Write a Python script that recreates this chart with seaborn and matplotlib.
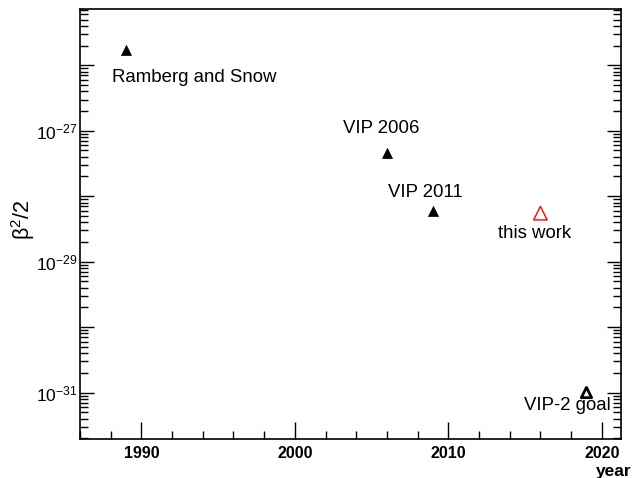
import numpy as np
import pandas as pd
import matplotlib
matplotlib.use('Agg')
import matplotlib.pyplot as plt
import matplotlib.ticker as mticker
import seaborn as sns

# 데이터
years = [1989, 2006, 2009, 2016, 2019]
values = [1.7e-26, 4.5e-28, 6.0e-29, 5.5e-29, 1.0e-31]
names = ['Ramberg and Snow', 'VIP 2006', 'VIP 2011', 'this work', 'VIP-2 goal']
kinds = ['past', 'past', 'past', 'this', 'goal']
ytick_labels = ['$\\mathdefault{10^{-27}}$', '$\\mathdefault{10^{-29}}$', '$\\mathdefault{10^{-31}}$']

df = pd.DataFrame({'year': years, 'value': values, 'name': names, 'kind': kinds})

sns.set_style('ticks')
plt.rcParams['font.family'] = ['Liberation Sans', 'DejaVu Sans']
plt.rcParams['mathtext.fontset'] = 'custom'
plt.rcParams['mathtext.rm'] = 'Liberation Sans'
plt.rcParams['mathtext.it'] = 'Liberation Sans:italic'
plt.rcParams['mathtext.bf'] = 'Liberation Sans:bold'
for k in ['text.color', 'axes.labelcolor', 'xtick.color', 'ytick.color']:
    plt.rcParams[k] = 'black'

fig = plt.figure(figsize=(6.32, 4.78), dpi=100)
ax = fig.add_axes([80/632, 1-439/478, 541/632, 430/478])

past = df[df.kind == 'past']
sns.scatterplot(data=past, x='year', y='value', marker='^', s=52, color='black',
                edgecolor='black', linewidth=0.5, ax=ax, legend=False)
sns.scatterplot(data=df[df.kind == 'this'], x='year', y='value', marker='^', s=95,
                facecolor='none', edgecolor='red', linewidth=1.0, ax=ax, legend=False)
sns.scatterplot(data=df[df.kind == 'goal'], x='year', y='value', marker='^', s=55,
                facecolor='none', edgecolor='black', linewidth=2.0, ax=ax, legend=False)

# 라벨 위치 (픽셀 오프셋)
offsets = {'Ramberg and Snow': (-14, -31.6), 'VIP 2006': (-44, 20), 'VIP 2011': (-45, 13.3),
           'this work': (-42, -24.4), 'VIP-2 goal': (-62, -17.7)}
for _, r in df.iterrows():
    ax.annotate(r['name'], (r['year'], r['value']), xytext=offsets[r['name']],
                textcoords='offset pixels', ha='left', va='baseline', fontsize=13.4)

ax.set_yscale('log')
ax.set_xlim(1986, 2021.25)
ax.set_ylim(10**-31.71, 10**-25.14)

ax.xaxis.set_major_locator(mticker.MultipleLocator(10))
ax.xaxis.set_minor_locator(mticker.MultipleLocator(2))
ax.yaxis.set_major_locator(mticker.FixedLocator([10.0**k for k in range(-32, -24)]))
ax.yaxis.set_minor_locator(mticker.LogLocator(base=10, subs=np.arange(2, 10), numticks=20))
ax.yaxis.set_major_formatter(mticker.FuncFormatter(
    lambda v, p: ytick_labels[[-27, -29, -31].index(int(round(np.log10(v))))]
    if int(round(np.log10(v))) in (-27, -29, -31) else ''))
ax.yaxis.set_minor_formatter(mticker.NullFormatter())

ax.tick_params(axis='x', which='major', direction='in', length=12, width=1, pad=5,
               labelsize=11.5, top=False)
ax.tick_params(axis='x', which='minor', direction='in', length=6, width=1, top=False)
ax.tick_params(axis='y', which='major', direction='in', length=10, width=1, pad=2,
               labelsize=12.5, right=True)
ax.tick_params(axis='y', which='minor', direction='in', length=6, width=1, right=True)
for lab in ax.get_xticklabels():
    lab.set_fontweight('bold')

for sp in ax.spines.values():
    sp.set_linewidth(1.2)
    sp.set_color('black')

ax.set_xlabel('year', fontweight='bold', fontsize=12.5, ha='right')
ax.xaxis.set_label_coords(1.02, -0.057)
ax.set_ylabel('β$^{\\mathdefault{2}}$/2', fontsize=15.5)
ax.yaxis.set_label_coords(-0.079, 0.51)

fig.savefig('out.png', dpi=100)
